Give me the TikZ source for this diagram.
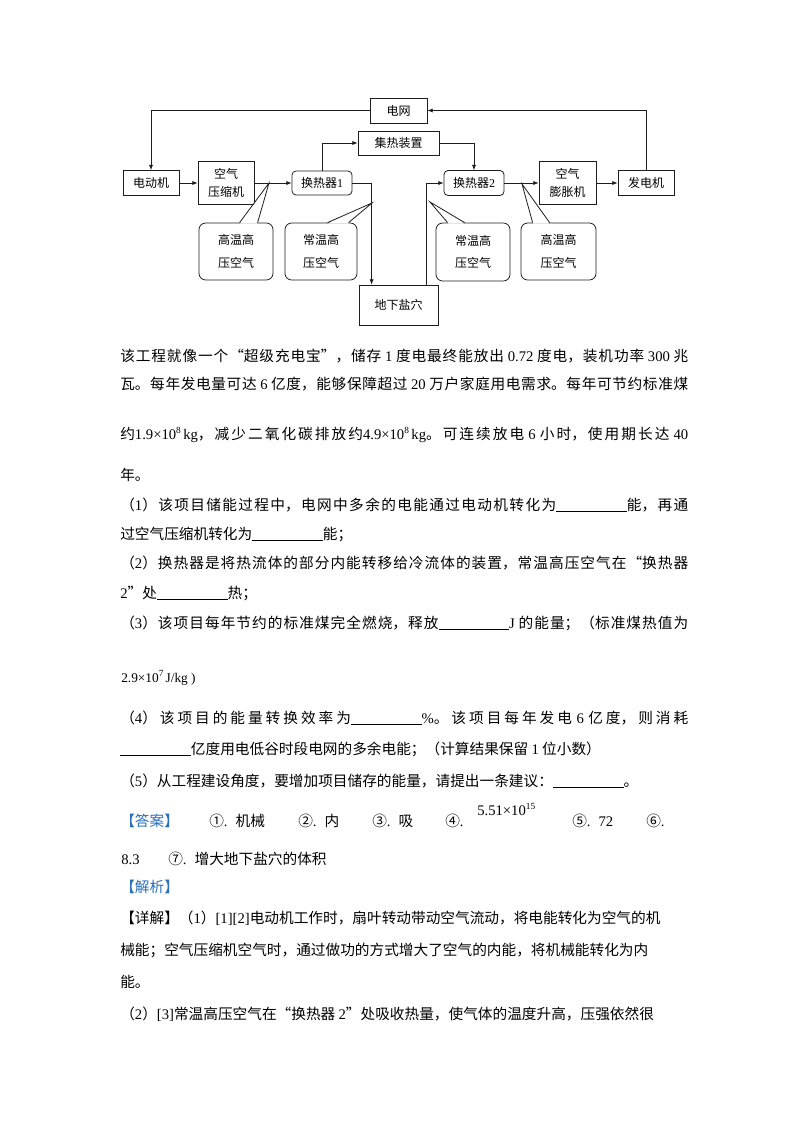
\documentclass[tikz,border=0pt]{standalone}
\usepackage{fontspec}
\setmainfont{Noto Sans CJK SC}
\newfontfamily\tm{Liberation Serif}
\usetikzlibrary{arrows.meta,calc}
\XeTeXlinebreaklocale "zh"
\XeTeXlinebreakskip=0pt plus 3pt minus 0.2pt
\definecolor{ansblue}{RGB}{40,110,190}
\definecolor{ink}{RGB}{30,30,30}
\newcommand\sups[1]{\raisebox{0.85ex}{\fontsize{7}{7}\selectfont #1}}
\newcommand\blank{\rule[-1.5pt]{53pt}{0.45pt}}
\newcommand\jl[1]{\parbox[b]{426pt}{\tolerance=10000\parfillskip=0pt\relax #1}}
\begin{document}
\begin{tikzpicture}[x=0.75pt,y=-0.75pt,
  line/.style={draw=ink,line width=0.6pt},
  arr/.style={line,-{Latex[length=4pt,width=3.2pt]}},
  box/.style={line,inner sep=0pt,align=center,font=\fontsize{9}{14}\selectfont},
  rbox/.style={box,rounded corners=3pt},
  cbox/.style={box,rounded corners=5pt,font=\fontsize{9}{17}\selectfont,minimum height=42.75pt},
  txt/.style={anchor=base west,inner sep=0pt,font=\fontsize{11}{14}\selectfont},
  hd/.style={txt,text=ansblue}]
\useasboundingbox (0,0) rectangle (800,1132);
\fill[white] (0,0) rectangle (800,1132);

% ---------- diagram boxes ----------
\node[box,minimum width=42.75pt,minimum height=18.75pt] (grid) at (398.5,110.5) {电网};
\node[box,minimum width=42pt,minimum height=18.75pt] (motor) at (151,183) {电动机};
\node[box,minimum width=42pt,minimum height=32.25pt] (comp) at (226,183) {空气\\压缩机};
\node[rbox,minimum width=45pt,minimum height=18pt] (hx1) at (322,183) {换热器{\tm 1}};
\node[box,minimum width=60.75pt,minimum height=18pt] (coll) at (398.5,143) {集热装置};
\node[box,minimum width=59.25pt,minimum height=30pt] (cave) at (398.5,305) {地下盐穴};
\node[rbox,minimum width=45pt,minimum height=18.75pt] (hx2) at (474,183) {换热器{\tm 2}};
\node[box,minimum width=42.75pt,minimum height=32.25pt] (exp) at (567.5,183) {空气\\膨胀机};
\node[box,minimum width=42pt,minimum height=18.75pt] (gen) at (646,183) {发电机};

% ---------- connectors ----------
\draw[arr] (grid.west) -| (motor.north);
\draw[arr] (motor) -- (comp);
\draw[arr] (comp) -- (hx1);
\draw[arr] (hx1.north) |- (coll.west);
\draw[arr] (hx1.east) -| ([xshift=9.75pt]cave.north west);
\draw[arr] ([xshift=-9pt]cave.north east) |- (hx2.west);
\draw[arr] (coll.east) -| (hx2.north);
\draw[arr] (hx2) -- (exp);
\draw[arr] (exp) -- (gen);
\draw[arr] (gen.north) |- (grid.east);

% ---------- callouts ----------
\coordinate (t1) at (269,183);
\coordinate (t2) at (372,203);
\coordinate (t3) at (430,202);
\coordinate (t4) at (522,184);
\node[cbox,minimum width=55.5pt] (k1) at (236,251.5) {高温高\\压空气};
\node[cbox,minimum width=54pt] (k2) at (321,251.5) {常温高\\压空气};
\node[cbox,minimum width=55.5pt,minimum height=43.5pt] (k3) at (473,252) {常温高\\压空气};
\node[cbox,minimum width=56.25pt] (k4) at (558.5,251.5) {高温高\\压空气};
\foreach \k/\t/\a/\b in {k1/t1/41/59, k2/t2/43/64, k3/t3/12/29, k4/t4/12/29}{
  \fill[white] ($(\k.north west)+(\a+0.6,1)$) -- (\t) -- ($(\k.north west)+(\b-0.6,1)$) -- cycle;
  \draw[line] ($(\k.north west)+(\a,0)$) -- (\t) -- ($(\k.north west)+(\b,0)$);
}

% ---------- text ----------
\node[txt] (l1) at (120,361) {\jl{该工程就像一个“超级充电宝”，储存 {\tm 1} 度电最终能放出 {\tm 0.72} 度电，装机功率 {\tm 300} 兆}};
\node[txt] (l2) at (120,389) {\jl{瓦。每年发电量可达 {\tm 6} 亿度，能够保障超过 {\tm 20} 万户家庭用电需求。每年可节约标准煤}};
\node[txt] (l3) at (120,439) {\jl{约{\tm 1.9×10\sups{8}\,kg}，减少二氧化碳排放约{\tm 4.9×10\sups{8}\,kg}。可连续放电 {\tm 6} 小时，使用期长达 {\tm 40}}};
\node[txt] (l4) at (120,480) {年。};
\node[txt] (l5) at (120,510) {\jl{（{\tm 1}）该项目储能过程中，电网中多余的电能通过电动机转化为\blank 能，再通}};
\node[txt] (l6) at (120,539) {过空气压缩机转化为\blank 能；};
\node[txt] (l7) at (120,568) {\jl{（{\tm 2}）换热器是将热流体的部分内能转移给冷流体的装置，常温高压空气在“换热器}};
\node[txt] (l8) at (120,598) {{\tm 2}”处\blank 热；};
\node[txt] (l9) at (120,628) {\jl{（{\tm 3}）该项目每年节约的标准煤完全燃烧，释放\blank{\tm J} 的能量；（标准煤热值为}};
\node[txt,font=\fontsize{10}{12}\selectfont] (l10) at (121,682) {{\tm 2.9×10\sups{7}\,J/kg )}};
\node[txt] (l11) at (120,723) {\jl{（{\tm 4}）该项目的能量转换效率为\blank{\tm \%}。该项目每年发电 {\tm 6} 亿度，则消耗}};
\node[txt] (l12) at (120,754) {\blank 亿度用电低谷时段电网的多余电能；（计算结果保留 {\tm 1} 位小数）};
\node[txt] (l13) at (120,786) {（{\tm 5}）从工程建设角度，要增加项目储存的能量，请提出一条建议：\blank 。};

\node[hd] (ans) at (120,826) {【答案】};
\node[txt] (a1) at (209,826) {①{\tm .}\hspace{6pt}机械};
\node[txt] (a2) at (298,826) {②{\tm .}\hspace{6pt}内};
\node[txt] (a3) at (372,826) {③{\tm .}\hspace{6pt}吸};
\node[txt] (a4) at (445,826) {④{\tm .}};
\node[txt] (a4v) at (477,815) {{\tm 5.51×10\sups{15}}};
\node[txt] (a5) at (572,826) {⑤{\tm .}\hspace{6pt}{\tm 72}};
\node[txt] (a6) at (646,826) {⑥{\tm .}};
\node[txt] (a6v) at (121,864) {{\tm 8.3}};
\node[txt] (a7) at (168,864) {⑦{\tm .}\hspace{6pt}增大地下盐穴的体积};

\node[hd] (jx) at (120,892) {【解析】};
\node[txt] (d1) at (120,923) {【详解】（{\tm 1}）{\tm [1][2]}电动机工作时，扇叶转动带动空气流动，将电能转化为空气的机};
\node[txt] (d2) at (120,955) {械能；空气压缩机空气时，通过做功的方式增大了空气的内能，将机械能转化为内};
\node[txt] (d3) at (120,987) {能。};
\node[txt] (d4) at (120,1019) {（{\tm 2}）{\tm [3]}常温高压空气在“换热器 {\tm 2}”处吸收热量，使气体的温度升高，压强依然很};
\end{tikzpicture}
\end{document}
